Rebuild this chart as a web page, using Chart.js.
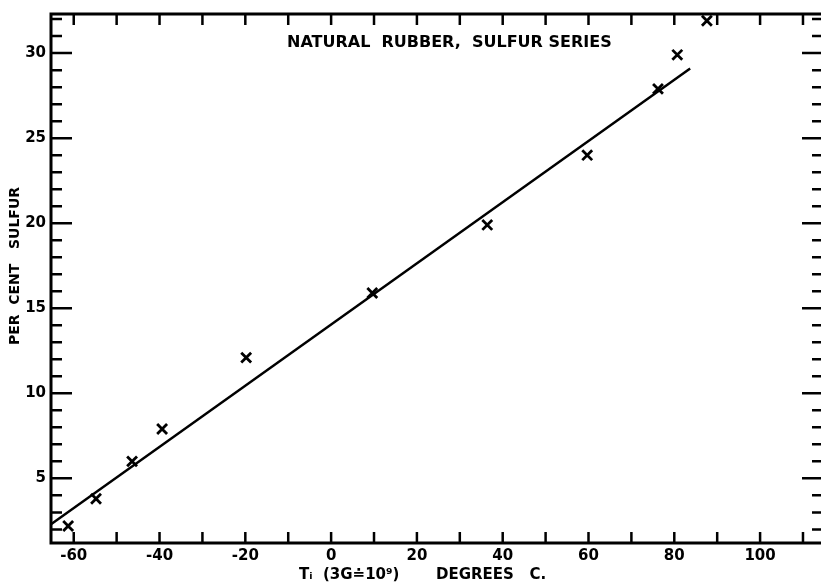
<!DOCTYPE html>
<html>
<head>
<meta charset="utf-8">
<script src="https://cdn.jsdelivr.net/npm/chart.js@4.4.1/dist/chart.umd.min.js"></script>
<style>
  html, body { margin: 0; padding: 0; background: #fff; overflow: hidden; }
  canvas { display: block; }
</style>
</head>
<body>
<canvas id="chart" width="821" height="584"></canvas>
<script>
// measured points (X marks)
const tempC     = [-61.3, -54.8, -46.4, -39.4, -19.8, 9.6, 36.4, 59.7, 76.2, 80.7, 87.6];
const sulfurPct = [2.2, 3.8, 6.0, 7.9, 12.1, 15.9, 19.9, 24.0, 27.9, 29.9, 31.9];

// fitted straight line, end points as drawn
const fitTemp   = [-65.3, 83.7];
const fitSulfur = [2.3, 29.1];

// tick labels
const xLabels = [-60, -40, -20, 0, 20, 40, 60, 80, 100];
const yLabels = [5, 10, 15, 20, 25, 30];

const FONT = "'DejaVu Sans', sans-serif";

// frame with inward ticks on all four sides + titles
// (the right-hand border line lies just past the cropped edge)
const framePlugin = {
    id: 'frame',
    afterDraw(chart) {
        const ctx = chart.ctx;
        const a = chart.chartArea;
        const x = chart.scales.x;
        const y = chart.scales.y;
        ctx.save();
        ctx.strokeStyle = '#000';
        ctx.lineWidth = 3;
        ctx.beginPath();
        ctx.moveTo(a.right, a.top);
        ctx.lineTo(a.left, a.top);
        ctx.lineTo(a.left, a.bottom);
        ctx.lineTo(a.right, a.bottom);
        ctx.stroke();

        ctx.lineWidth = 2.5;
        ctx.beginPath();
        for (let v = -60; v <= 110; v += 10) {
            const px = x.getPixelForValue(v);
            ctx.moveTo(px, a.top);
            ctx.lineTo(px, a.top + 11);
            ctx.moveTo(px, a.bottom);
            ctx.lineTo(px, a.bottom - 11);
        }
        for (let v = 2; v <= 32; v++) {
            const py = y.getPixelForValue(v);
            const len = v % 5 === 0 ? 21 : 11;
            ctx.moveTo(a.left, py);
            ctx.lineTo(a.left + len, py);
            ctx.moveTo(a.right + 2, py);
            ctx.lineTo(a.right + 2 - len, py);
        }
        ctx.stroke();

        ctx.fillStyle = '#000';
        ctx.textBaseline = 'middle';
        ctx.textAlign = 'left';
        ctx.font = 'bold 16px ' + FONT;
        ctx.fillText('NATURAL  RUBBER,  SULFUR SERIES', a.left + 236, a.top + 29);

        ctx.font = 'bold 15px ' + FONT;
        ctx.fillText('T\u1D62  (3G\u225010\u2079)       DEGREES   C.', a.left + 248, a.bottom + 32);

        ctx.save();
        ctx.translate(15, 266);
        ctx.rotate(-Math.PI / 2);
        ctx.textAlign = 'center';
        ctx.font = 'bold 14px ' + FONT;
        ctx.fillText('PER  CENT   SULFUR', 0, 0);
        ctx.restore();

        ctx.restore();
    }
};

const points = tempC.map((t, i) => ({ x: t, y: sulfurPct[i] }));
const fitLine = fitTemp.map((t, i) => ({ x: t, y: fitSulfur[i] }));

new Chart(document.getElementById('chart'), {
    type: 'scatter',
    data: {
        datasets: [{
            data: points,
            pointStyle: 'crossRot',
            pointRadius: 7,
            pointBorderWidth: 2.8,
            borderColor: '#000',
            backgroundColor: '#000'
        }, {
            type: 'line',
            data: fitLine,
            showLine: true,
            pointRadius: 0,
            borderWidth: 2.5,
            borderColor: '#000',
            fill: false
        }]
    },
    options: {
        responsive: false,
        animation: false,
        layout: {
            autoPadding: false,
            padding: { top: 14, right: 0, left: 0, bottom: 0 }
        },
        plugins: {
            legend: { display: false },
            tooltip: { enabled: false }
        },
        scales: {
            x: {
                type: 'linear',
                min: -65.3,
                max: 114.2,
                grid: { display: false, drawTicks: false },
                border: { display: false },
                ticks: {
                    stepSize: 10,
                    includeBounds: false,
                    autoSkip: false,
                    maxRotation: 0,
                    padding: 4,
                    color: '#000',
                    font: { family: FONT, size: 15, weight: 'bold' },
                    callback: v => xLabels.includes(v) ? String(v) : ''
                },
                afterFit: s => {
                    s.height = 41;
                    s.paddingLeft = 0;
                    s.paddingRight = 0;
                }
            },
            y: {
                type: 'linear',
                min: 1.2,
                max: 32.3,
                grid: { display: false, drawTicks: false },
                border: { display: false },
                ticks: {
                    stepSize: 5,
                    includeBounds: false,
                    padding: 5,
                    color: '#000',
                    font: { family: FONT, size: 15, weight: 'bold' },
                    callback: v => yLabels.includes(v) ? String(v) : ''
                },
                afterFit: s => {
                    s.width = 51;
                    s.paddingTop = 0;
                    s.paddingBottom = 0;
                }
            }
        }
    },
    plugins: [framePlugin]
});
</script>
</body>
</html>
